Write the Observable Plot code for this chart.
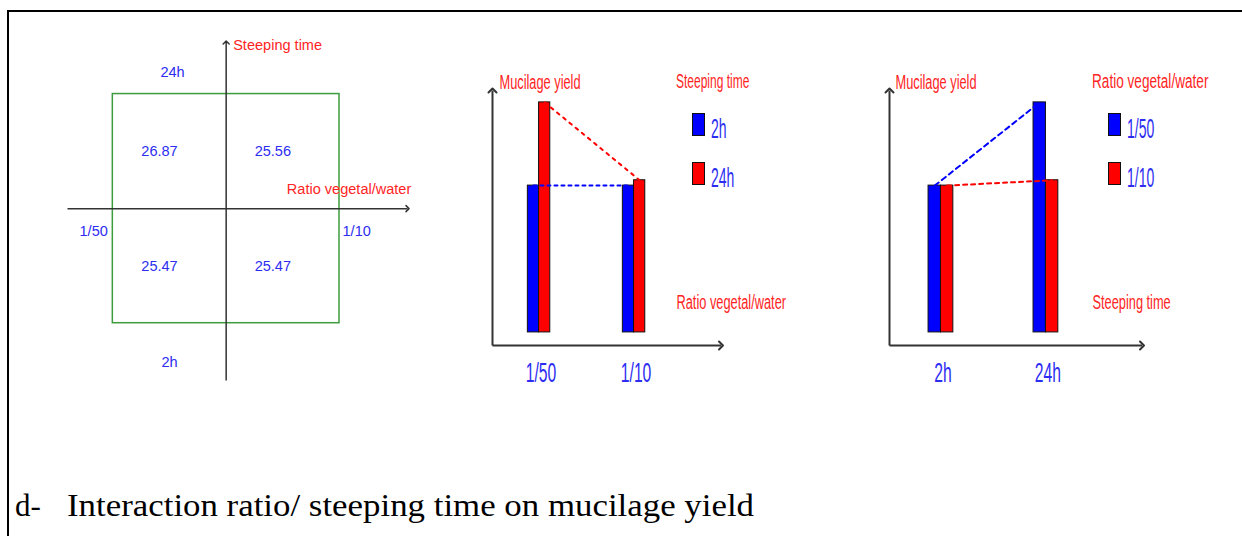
<!DOCTYPE html>
<html><head><meta charset="utf-8">
<script src="https://cdn.jsdelivr.net/npm/d3@7"></script>
<script src="https://cdn.jsdelivr.net/npm/@observablehq/plot@0.6"></script>
<style>
html,body{margin:0;padding:0;background:#fff;}
#root{position:relative;width:1242px;height:536px;overflow:hidden;background:#fff;font-family:"Liberation Sans",Arial,sans-serif;}
.frameline{position:absolute;left:7px;top:10px;right:-5px;bottom:-5px;border-top:2px solid #000;border-left:2px solid #000;}
.panel{position:absolute;top:0;}
.abs{position:absolute;white-space:nowrap;}
.narrow{display:inline-block;transform-origin:0 0;}
.swatch{position:absolute;width:11px;height:21px;border:1px solid #111;}
.caption{position:absolute;font-family:"Liberation Serif","Times New Roman",serif;color:#000;white-space:nowrap;}
</style></head>
<body><div id="root"><div class="frameline"></div></div>
<script>
// ---------------- data ----------------
const ratios = ["1/50", "1/10"];          // ratio vegetal/water levels
const times = ["2h", "24h"];              // steeping time levels
const yield2h = [25.47, 25.47];           // mucilage yield at 2h, by ratio
const yield24h = [26.87, 25.56];          // mucilage yield at 24h, by ratio
const codedLevels = [-1, 1];              // coded design levels (low, high)
const barBase = 23;                       // base value of the bars
const ratioTitle = "Ratio vegetal/water";
const timeTitle = "Steeping time";
const yieldTitle = "Mucilage yield";
const captionTag = "d-";
const captionText = "Interaction ratio/ steeping time on mucilage yield";

// ---------------- styles ----------------
const FONT = '"Liberation Sans", Arial, sans-serif';
const RED = "#ff2424";
const BLUE_TXT = "#2d2df2";
const SERIES_COLORS = ["#0000ff", "#ff0000"];
const AXIS = "#333333";

const cells = [];
times.forEach((time, ti) => ratios.forEach((ratio, ri) =>
  cells.push({time, ratio, ti, ri, value: [yield2h, yield24h][ti][ri]})));

const root = document.getElementById("root");

// horizontal condensing of SVG texts; factor chosen by font size
function condense(svg, factorOf) {
  svg.querySelectorAll("text").forEach(t => {
    const holder = t.closest("[font-size]");
    const fs = holder ? parseFloat(holder.getAttribute("font-size")) : 10;
    const sx = factorOf(fs);
    let tr = t.getAttribute("transform");
    if (!tr) {
      const x = t.getAttribute("x") || 0, y = t.getAttribute("y") || 0;
      t.removeAttribute("x"); t.removeAttribute("y");
      tr = `translate(${x},${y})`;
    }
    t.setAttribute("transform", `${tr} scale(${sx},1)`);
  });
}

function place(node, left, top) {
  node.classList.add("panel");
  node.style.left = left + "px";
  node.style.top = top + "px";
  root.appendChild(node);
}

// ---------------- panel 1 : design square ----------------
{
  const qx = [-1.4, 1.6], qy = [-1.5, 1.45];
  const lo = d3.min(codedLevels), hi = d3.max(codedLevels);
  const txt = {fontSize: 15, fill: BLUE_TXT, text: d => d};
  const p1 = Plot.plot({
    width: 440, height: 400, marginLeft: 67, marginRight: 33, marginTop: 42, marginBottom: 20,
    x: {domain: qx, axis: null}, y: {domain: qy, axis: null},
    style: {fontFamily: FONT, background: "transparent", overflow: "visible"},
    marks: [
      Plot.rect([{x1: lo, x2: hi, y1: lo, y2: hi}], {x1: "x1", x2: "x2", y1: "y1", y2: "y2", fill: "none", stroke: "#3d9c3d", strokeWidth: 1.5}),
      Plot.link([{x1: qx[0], x2: qx[1], y1: 0, y2: 0}, {x1: 0, x2: 0, y1: qy[0], y2: qy[1]}],
        {x1: "x1", x2: "x2", y1: "y1", y2: "y2", stroke: AXIS, strokeWidth: 1.5, markerEnd: "arrow"}),
      Plot.text(cells, {x: d => codedLevels[d.ri] / 2, y: d => codedLevels[d.ti] / 2, text: d => d.value.toFixed(2), dx: -10, fontSize: 15, fill: BLUE_TXT}),
      Plot.text([times[1]], {...txt, x: () => -0.5, y: () => hi, dx: 3, dy: -22}),
      Plot.text([times[0]], {...txt, x: () => -0.5, y: () => lo, dy: 39}),
      Plot.text([ratios[0]], {...txt, x: () => lo, y: () => 0, dx: -5, dy: 23, textAnchor: "end"}),
      Plot.text([ratios[1]], {...txt, x: () => hi, y: () => 0, dx: 3, dy: 23, textAnchor: "start"}),
      Plot.text([timeTitle], {...txt, fill: RED, x: () => 0, y: () => qy[1], dx: 7, dy: 3, textAnchor: "start"}),
      Plot.text([ratioTitle], {...txt, fill: RED, x: () => 0.5, y: () => 0, dx: 4, dy: -19, textAnchor: "start"})
    ]
  });
  condense(p1, () => 0.97);
  place(p1, 0, 0);
}

// ---------------- panels 2 & 3 : interaction bars ----------------
function barPanel({cats, catKey, serKey, series, left, width, marginLeft, marginRight, xTitle, xTitleDx, yTitleDx, dashes, legendTitle, legendScale}) {
  const xd = [-0.49, 1.915];
  const yd = [22.78, 27.07];
  const BW = 0.118;
  const marks = [];
  [0, 1].forEach(s => {
    const rows = cells.filter(d => d[serKey] === s).sort((a, b) => a[catKey] - b[catKey]);
    marks.push(Plot.rect(rows, {
      x1: d => d[catKey] + (s === 0 ? -BW : 0),
      x2: d => d[catKey] + (s === 0 ? 0 : BW),
      y1: () => barBase, y2: "value",
      fill: SERIES_COLORS[s], stroke: "#111", strokeWidth: 1
    }));
  });
  [0, 1].forEach(s => {
    const rows = cells.filter(d => d[serKey] === s).sort((a, b) => a[catKey] - b[catKey]);
    marks.push(Plot.line(rows, {
      x: d => d[catKey] + (s === 0 ? -BW / 2 : BW / 2), y: "value",
      stroke: SERIES_COLORS[s], strokeWidth: 2, strokeDasharray: dashes[s]
    }));
  });
  marks.push(Plot.link([{x1: xd[0], x2: xd[1], y1: yd[0], y2: yd[0]}, {x1: xd[0], x2: xd[0], y1: yd[0], y2: yd[1]}],
    {x1: "x1", x2: "x2", y1: "y1", y2: "y2", stroke: AXIS, strokeWidth: 2, markerEnd: "arrow"}));
  marks.push(Plot.text(cats, {x: (d, i) => i, y: () => yd[0], dy: 28, dx: 2, text: d => d, fill: BLUE_TXT, fontSize: 28}));
  marks.push(Plot.text([yieldTitle], {frameAnchor: "top-left", textAnchor: "start", lineAnchor: "middle", dx: yTitleDx, dy: -8, text: d => d, fill: RED, fontSize: 20}));
  marks.push(Plot.text([xTitle], {frameAnchor: "bottom-right", textAnchor: "start", lineAnchor: "middle", dx: xTitleDx, dy: -43, text: d => d, fill: RED, fontSize: 20}));
  const p = Plot.plot({
    width, height: 400, marginLeft, marginRight, marginTop: 90, marginBottom: 55,
    x: {domain: xd, axis: null}, y: {domain: yd, axis: null},
    style: {fontFamily: FONT, background: "transparent", overflow: "visible"},
    marks
  });
  condense(p, fs => fs >= 24 ? 0.56 : 0.64);
  place(p, left, 0);

  // legend (HTML)
  const legLeft = left + marginLeft + (width - marginLeft - marginRight) + xTitleDx;
  const t = document.createElement("div");
  t.className = "abs";
  t.style.cssText = `left:${legLeft}px;top:71px;font-size:20px;line-height:20px;color:${RED};`;
  t.innerHTML = `<span class="narrow" style="transform:scaleX(${legendScale})">${legendTitle}</span>`;
  root.appendChild(t);
  series.forEach((lab, s) => {
    const sw = document.createElement("div");
    sw.className = "swatch";
    sw.style.cssText += `left:${legLeft + 16}px;top:${113 + s * 49}px;background:${SERIES_COLORS[s]};`;
    root.appendChild(sw);
    const l = document.createElement("div");
    l.className = "abs";
    l.style.cssText = `left:${legLeft + 35}px;top:${115 + s * 49}px;font-size:28px;line-height:28px;color:${BLUE_TXT};`;
    l.innerHTML = `<span class="narrow" style="transform:scaleX(0.5)">${lab}</span>`;
    root.appendChild(l);
  });
}

barPanel({cats: ratios, catKey: "ri", serKey: "ti", series: times, left: 460, width: 380,
  marginLeft: 32, marginRight: 119.5, xTitle: ratioTitle, xTitleDx: -44.5, yTitleDx: 7,
  dashes: ["3,4", "3,5"], legendTitle: timeTitle, legendScale: 0.6});
barPanel({cats: times, catKey: "ti", serKey: "ri", series: ratios, left: 860, width: 382,
  marginLeft: 29, marginRight: 100.5, xTitle: timeTitle, xTitleDx: -49.5, yTitleDx: 6,
  dashes: ["5,4", "4,4"], legendTitle: ratioTitle, legendScale: 0.68});

// ---------------- caption ----------------
{
  const tag = document.createElement("div");
  tag.className = "caption";
  tag.style.cssText = "left:15px;top:490px;font-size:31px;line-height:31px;";
  tag.textContent = captionTag;
  root.appendChild(tag);
  const cap = document.createElement("div");
  cap.className = "caption";
  cap.style.cssText = "left:67px;top:490px;font-size:31px;line-height:31px;transform-origin:0 0;";
  cap.textContent = captionText;
  root.appendChild(cap);
  const w = cap.getBoundingClientRect().width;
  cap.style.transform = `scaleX(${687 / w})`;
}
</script>
</body></html>
